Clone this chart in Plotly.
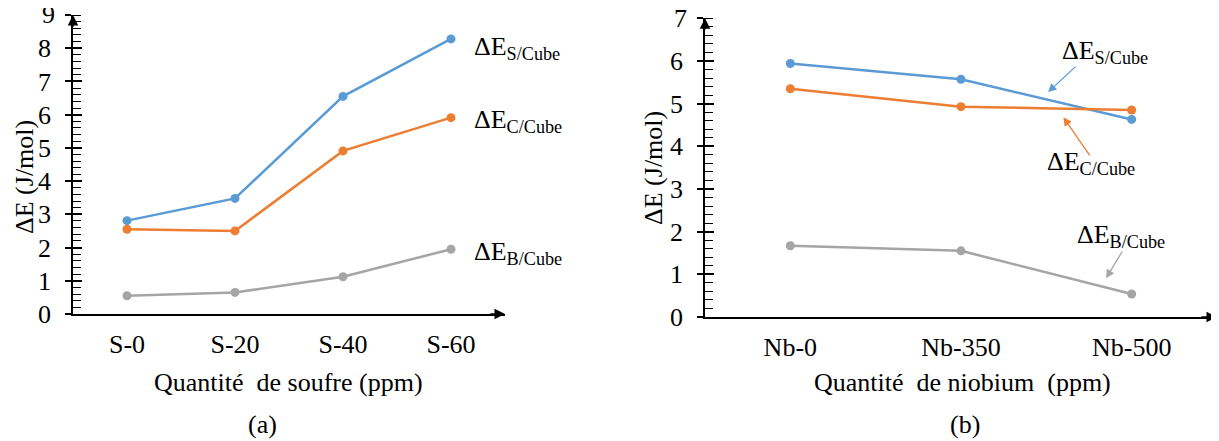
import plotly.graph_objects as go

# ---- data ----
soufre_cats = ["S-0", "S-20", "S-40", "S-60"]
soufre_S = [2.81, 3.48, 6.55, 8.28]
soufre_C = [2.55, 2.50, 4.91, 5.91]
soufre_B = [0.55, 0.65, 1.12, 1.95]

niob_cats = ["Nb-0", "Nb-350", "Nb-500"]
niob_S = [5.94, 5.57, 4.63]
niob_C = [5.35, 4.93, 4.85]
niob_B = [1.67, 1.55, 0.54]

y_max_left = 9
y_max_right = 7

series_names = ["ΔE<sub>S/Cube</sub>", "ΔE<sub>C/Cube</sub>", "ΔE<sub>B/Cube</sub>"]
colors = ["#5B9BD5", "#ED7D31", "#A5A5A5"]

FONT = "Liberation Serif, Times New Roman, DejaVu Serif, serif"
FS = 26
W, H = 1219, 441
OX, OY = 8, 8  # page offset

def fx(px):
    return (px - OX) / W

def fy(py):
    return 1 - (py - OY) / H

fig = go.Figure()

for vals, col, nm in zip([soufre_S, soufre_C, soufre_B], colors, series_names):
    fig.add_trace(go.Scatter(x=list(range(len(soufre_cats))), y=vals, mode="lines+markers",
                             line=dict(color=col, width=2.5), marker=dict(color=col, size=9),
                             xaxis="x", yaxis="y", name=nm, showlegend=False))
for vals, col, nm in zip([niob_S, niob_C, niob_B], colors, series_names):
    fig.add_trace(go.Scatter(x=list(range(len(niob_cats))), y=vals, mode="lines+markers",
                             line=dict(color=col, width=2.5), marker=dict(color=col, size=9),
                             xaxis="x2", yaxis="y2", name=nm, showlegend=False))

tickfont = dict(family=FONT, size=FS, color="black")
STANDOFF = 9

def xax(domain, cats, anchor):
    return dict(domain=domain, anchor=anchor, range=[-0.5, len(cats) - 0.5],
                tickmode="array", tickvals=list(range(len(cats))), ticktext=cats,
                showline=True, linecolor="black", linewidth=1.5, ticks="",
                showgrid=False, zeroline=False, tickfont=tickfont, ticklabelstandoff=6,
                automargin=False)

def yax(domain, top, anchor):
    return dict(domain=domain, anchor=anchor, range=[0, top], dtick=1,
                showline=True, linecolor="black", linewidth=1.5,
                ticks="outside", ticklen=6, tickcolor="black", tickwidth=1.5,
                minor=dict(ticks="inside", ticklen=8, dtick=0.2, tickcolor="black", tickwidth=1),
                showgrid=False, zeroline=False, tickfont=tickfont,
                ticklabelstandoff=STANDOFF, automargin=False)

def yover(over, top, anchor):
    return dict(overlaying=over, anchor=anchor, range=[0, top], dtick=1,
                showline=False, ticks="inside", ticklen=9, tickcolor="black", tickwidth=1.5,
                showticklabels=False, showgrid=False, zeroline=False, automargin=False)

xd1 = [fx(73), fx(505)]
yd1 = [fy(314), fy(15)]
xd2 = [fx(705), fx(1217)]
yd2 = [fy(317), fy(18.3)]

fig.update_layout(
    width=W, height=H, margin=dict(l=0, r=0, t=0, b=0, autoexpand=False),
    plot_bgcolor="white", paper_bgcolor="white",
    font=dict(family=FONT, size=FS, color="black"),
    xaxis=xax(xd1, soufre_cats, "y"),
    yaxis=yax(yd1, y_max_left, "x"),
    xaxis2=xax(xd2, niob_cats, "y2"),
    yaxis2=yax(yd2, y_max_right, "x2"),
    yaxis3=yover("y", y_max_left, "x"),
    yaxis4=yover("y2", y_max_right, "x2"),
)
# invisible traces so overlay axes render
fig.add_trace(go.Scatter(x=[0], y=[0], xaxis="x", yaxis="y3", mode="markers",
                         marker=dict(opacity=0), showlegend=False, hoverinfo="skip"))
fig.add_trace(go.Scatter(x=[0], y=[0], xaxis="x2", yaxis="y4", mode="markers",
                         marker=dict(opacity=0), showlegend=False, hoverinfo="skip"))

ann = []
# top tick labels (plotly hides them near the page edge)
for xr, yr, top in [("x", "y", y_max_left), ("x2", "y2", y_max_right)]:
    ann.append(dict(x=-0.5, y=top, xref=xr, yref=yr, text=str(top), showarrow=False,
                    xanchor="right", yanchor="middle", xshift=-(6 + STANDOFF + 1),
                    font=tickfont))

# axis arrows
for xr, yr, xe, ye, dx, dy in [("x", "y", -0.5, y_max_left, -0.5, y_max_left - 0.4),
                               ("x", "y", 3.5, 0, 3.35, 0),
                               ("x2", "y2", -0.5, y_max_right, -0.5, y_max_right - 0.3),
                               ("x2", "y2", 2.5, 0, 2.4, 0)]:
    ann.append(dict(x=xe, y=ye, ax=dx, ay=dy, xref=xr, yref=yr, axref=xr, ayref=yr,
                    text="", showarrow=True, arrowhead=2, arrowsize=1.4, arrowwidth=1.5,
                    arrowcolor="black"))

lab_font = dict(family=FONT, size=FS, color="black")
# left labels
for nm, yv in zip(series_names, [8.0, 5.81, 1.84]):
    ann.append(dict(x=3.19, y=yv, xref="x", yref="y", text=nm, showarrow=False,
                    xanchor="left", yanchor="middle", font=lab_font))
# right labels
for nm, xv, yv in zip(series_names, [1.58, 1.49, 1.67], [6.21, 3.61, 1.90]):
    ann.append(dict(x=xv, y=yv, xref="x2", yref="y2", text=nm, showarrow=False,
                    xanchor="left", yanchor="middle", font=lab_font))
# right pointer arrows
for col, hx, hy, tx, ty in [(colors[0], 1.51, 5.27, 1.68, 5.90),
                            (colors[1], 1.60, 4.68, 1.76, 3.75),
                            (colors[2], 1.85, 0.91, 1.95, 1.57)]:
    ann.append(dict(x=hx, y=hy, ax=tx, ay=ty, xref="x2", yref="y2", axref="x2", ayref="y2",
                    text="", showarrow=True, arrowhead=2, arrowsize=1.3, arrowwidth=1.3,
                    arrowcolor=col))

def ptxt(x, y, text, angle=0):
    return dict(x=fx(x), y=fy(y), xref="paper", yref="paper", text=text,
                textangle=angle, showarrow=False, xanchor="center", yanchor="middle",
                font=dict(family=FONT, size=FS, color="black"))

ann.append(ptxt(24, 177, "ΔE (J/mol)", -90))
ann.append(ptxt(653, 168, "ΔE (J/mol)", -90))
ann.append(ptxt(288, 382, "Quantité  de soufre (ppm)"))
ann.append(ptxt(963, 382, "Quantité  de niobium  (ppm)"))
ann.append(ptxt(262, 424, "(a)"))
ann.append(ptxt(965, 424, "(b)"))

fig.update_layout(annotations=ann)
fig.write_html("out.html")
